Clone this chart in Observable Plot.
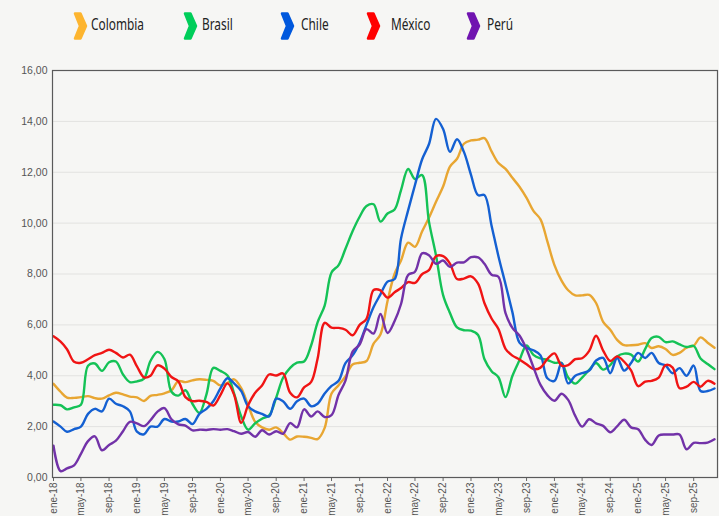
<!DOCTYPE html>
<html>
<head>
<meta charset="utf-8">
<script src="https://cdn.jsdelivr.net/npm/d3@7"></script>
<script src="https://cdn.jsdelivr.net/npm/@observablehq/plot@0.6"></script>
<style>
  html, body { margin: 0; padding: 0; background: #f6f6f4; }
  body { width: 719px; height: 516px; overflow: hidden; }
  #legend { position: relative; height: 50px; width: 719px; font-family: "Noto Sans", "DejaVu Sans", sans-serif; font-size: 17px; color: #222; }
  .item { position: absolute; top: 0; height: 50px; }
  .item svg { position: absolute; top: 12px; left: 0; }
  .item span { position: absolute; top: 12px; white-space: nowrap; transform-origin: 0 50%; display: inline-block; }
  #chart svg { display: block; }
</style>
</head>
<body>
<div id="legend"></div>
<div id="chart"></div>
<script>
const countries = ["Colombia", "Brasil", "Chile", "México", "Perú"];
const lineColors = ["#E8A632", "#14C256", "#1460D2", "#F01414", "#7232A8"];
const legendColors = ["#FDB52F", "#00CE5A", "#0058DD", "#FF0000", "#7014B0"];
const legendX = [73, 183, 280, 366, 466];
const legendTextX = [91, 202, 301, 391, 487];

const startYear = 2018, startMonth = 0, monthCount = 96;

const colombia = [3.68,3.37,3.14,3.13,3.16,3.20,3.12,3.10,3.23,3.33,3.27,3.18,
  3.15,3.01,3.21,3.25,3.31,3.43,3.79,3.75,3.82,3.86,3.84,3.80,
  3.62,3.72,3.86,3.51,2.85,2.19,1.97,1.88,1.97,1.75,1.49,1.61,
  1.60,1.56,1.51,1.95,3.30,3.63,3.97,4.44,4.51,4.58,5.26,5.62,
  6.94,8.01,8.53,9.23,9.07,9.67,10.21,10.84,11.44,12.22,12.53,13.12,
  13.25,13.28,13.34,12.82,12.36,12.13,11.78,11.43,10.99,10.48,10.15,9.28,
  8.35,7.74,7.36,7.16,7.16,7.18,6.86,6.12,5.81,5.41,5.20,5.20,
  5.22,5.28,5.09,5.16,5.05,4.82,4.90,5.10,5.18,5.51,5.30,5.10];
const brasil = [2.86,2.84,2.68,2.76,2.86,4.39,4.48,4.19,4.53,4.56,4.05,3.75,
  3.78,3.89,4.58,4.94,4.66,3.37,3.22,3.43,2.89,2.54,3.27,4.31,
  4.19,4.01,3.30,2.40,1.88,2.13,2.31,2.44,3.14,3.92,4.31,4.52,
  4.56,5.20,6.10,6.76,8.06,8.35,8.99,9.68,10.25,10.67,10.74,10.06,
  10.38,10.54,11.30,12.13,11.73,11.89,10.07,8.73,7.17,6.47,5.90,5.79,
  5.77,5.60,4.65,4.18,3.94,3.16,3.99,4.61,5.19,4.82,4.68,4.62,
  4.51,4.50,3.93,3.69,3.93,4.23,4.50,4.24,4.42,4.76,4.87,4.83,
  4.56,5.06,5.48,5.53,5.32,5.35,5.23,5.13,5.17,4.68,4.46,4.26];
const chile = [2.2,2.0,1.8,1.9,2.0,2.5,2.7,2.6,3.1,2.9,2.8,2.6,
  1.8,1.7,2.0,2.0,2.3,2.2,2.2,2.3,2.1,2.5,2.7,3.0,
  3.5,3.9,3.7,3.4,2.8,2.6,2.5,2.4,3.1,3.0,2.7,3.0,
  3.1,2.8,2.9,3.3,3.6,3.8,4.5,4.8,5.3,6.0,6.7,7.2,
  7.7,7.8,9.4,10.5,11.5,12.5,13.1,14.1,13.7,12.8,13.3,12.8,
  11.9,11.1,11.1,9.9,8.7,7.6,6.5,5.3,5.1,5.0,4.8,3.9,
  3.8,4.5,3.7,4.0,4.1,4.2,4.6,4.7,4.1,4.7,4.2,4.5,
  4.9,4.7,4.9,4.5,4.4,4.1,4.3,4.0,4.4,3.4,3.4,3.5];
const mexico = [5.55,5.34,5.04,4.55,4.51,4.65,4.81,4.90,5.02,4.90,4.72,4.83,
  4.37,3.94,4.00,4.41,4.28,3.95,3.78,3.16,3.00,3.02,2.97,2.83,
  3.24,3.70,3.25,2.15,2.84,3.33,3.62,4.05,4.01,4.09,3.33,3.15,
  3.54,3.76,4.67,6.08,5.89,5.88,5.81,5.59,6.00,6.24,7.37,7.36,
  7.07,7.28,7.45,7.68,7.65,7.99,8.15,8.70,8.70,8.41,7.80,7.82,
  7.91,7.62,6.85,6.25,5.84,5.06,4.79,4.64,4.45,4.26,4.32,4.66,
  4.88,4.40,4.42,4.65,4.69,4.98,5.57,4.99,4.58,4.76,4.55,4.21,
  3.59,3.77,3.80,3.93,4.42,4.32,3.51,3.57,3.76,3.57,3.80,3.69];
const peru = [1.25,0.25,0.36,0.48,0.93,1.43,1.62,1.07,1.28,1.45,1.82,2.19,
  2.13,2.02,2.25,2.59,2.73,2.29,2.09,2.04,1.85,1.88,1.87,1.90,
  1.88,1.90,1.82,1.72,1.79,1.60,1.86,1.69,1.82,1.72,2.14,1.97,
  2.68,2.40,2.60,2.38,2.45,3.25,3.81,4.95,5.23,5.83,5.66,6.43,
  5.68,6.15,6.82,7.96,8.09,8.81,8.74,8.40,8.53,8.28,8.45,8.46,
  8.66,8.65,8.40,7.97,7.89,6.46,5.88,5.58,5.04,4.34,3.64,3.24,
  3.02,3.29,3.05,2.42,2.00,2.29,2.13,2.03,1.78,2.01,2.27,1.97,
  1.90,1.48,1.28,1.65,1.69,1.69,1.69,1.11,1.36,1.35,1.37,1.50];

const tickLabels = ["ene-18","may-18","sep-18","ene-19","may-19","sep-19","ene-20","may-20","sep-20",
  "ene-21","may-21","sep-21","ene-22","may-22","sep-22","ene-23","may-23","sep-23",
  "ene-24","may-24","sep-24","ene-25","may-25","sep-25"];
const yTicks = [0, 2, 4, 6, 8, 10, 12, 14, 16];

// Legend
const legend = document.getElementById("legend");
const spans = [];
countries.forEach((c, i) => {
  const it = document.createElement("div");
  it.className = "item";
  it.style.left = legendX[i] + "px";
  it.innerHTML = `<svg width="15" height="28" viewBox="0 0 15 28"><path d="M2,1.5 L7.5,1.5 L13,14 L7.5,26.5 L2,26.5 L7,14 Z" fill="${legendColors[i]}" stroke="${legendColors[i]}" stroke-width="2.5" stroke-linejoin="round"/></svg><span style="left:${legendTextX[i] - legendX[i]}px">${c}</span>`;
  legend.appendChild(it);
  spans.push(it.querySelector("span"));
});
// condensed look: narrow the legend text horizontally
const colWidth = spans[0].getBoundingClientRect().width;
const sx = colWidth > 0 ? 53 / colWidth : 0.75;
spans.forEach(s => { s.style.transform = `scaleX(${sx})`; });

// Data
const dates = d3.utcMonth.range(new Date(Date.UTC(startYear, startMonth, 1)), new Date(Date.UTC(startYear, startMonth + monthCount, 1)));
const series = [colombia, brasil, chile, mexico, peru];
const data = [];
series.forEach((vals, s) => vals.forEach((v, i) => data.push({country: countries[s], date: dates[i], value: v})));

const tickDates = tickLabels.map((_, i) => dates[i * 4]);
const labelByTime = new Map(tickDates.map((d, i) => [+d, tickLabels[i]]));

const chart = Plot.plot({
  width: 719,
  height: 466,
  marginLeft: 52,
  marginRight: 2,
  marginTop: 20,
  marginBottom: 39,
  style: {background: "transparent", fontFamily: "'Liberation Sans', Arial, sans-serif", fontSize: "10.5px", color: "#555", overflow: "visible"},
  x: {type: "utc", domain: [dates[0], dates[dates.length - 1]], insetLeft: 1, insetRight: 3},
  y: {domain: [0, 16]},
  color: {domain: countries, range: lineColors},
  marks: [
    Plot.gridY(yTicks, {stroke: "#e2e2e0", strokeOpacity: 1}),
    Plot.axisY(yTicks, {tickFormat: d => d.toFixed(2).replace(".", ","), tickSize: 0, tickPadding: 5, label: null, fill: "#555"}),
    Plot.axisX(tickDates, {tickFormat: d => labelByTime.get(+d), tickRotate: -90, tickSize: 4, tickPadding: 1, fontSize: 10, label: null, stroke: "#666", fill: "#555"}),
    Plot.line(data, {x: "date", y: "value", z: "country", stroke: "country", curve: "catmull-rom", strokeWidth: 2.4, strokeLinejoin: "round"}),
    Plot.frame({stroke: "#5a5a5a", strokeWidth: 1.2})
  ]
});
document.getElementById("chart").appendChild(chart);
</script>
</body>
</html>
